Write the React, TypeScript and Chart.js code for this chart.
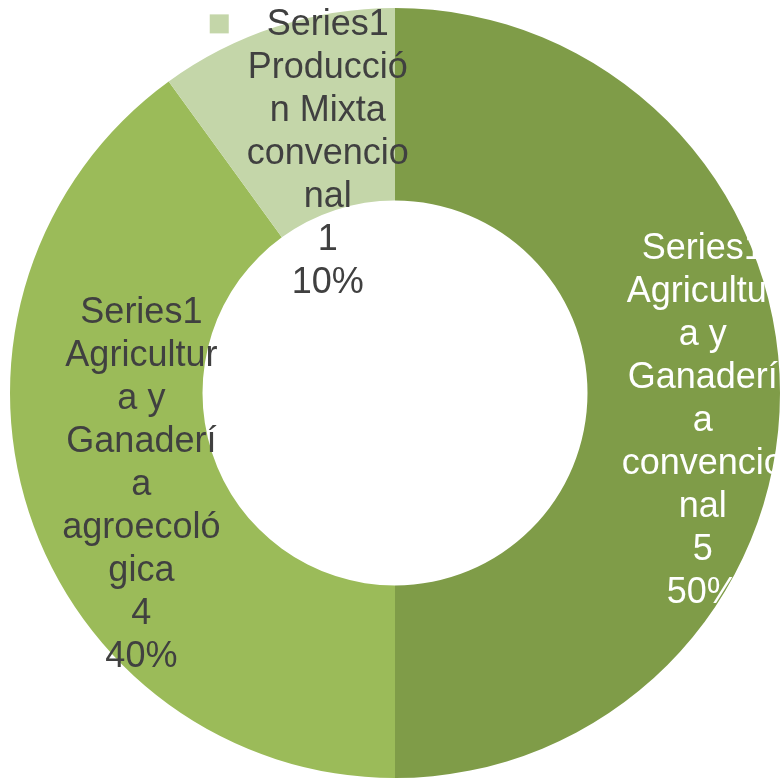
import React, { useEffect, useRef } from "react";
import { Chart, registerables } from "chart.js";

Chart.register(...registerables);

const seriesName = "Series1";
const categories = [
  "Agricultura y Ganadería convencional",
  "Agricultura y Ganadería agroecológica",
  "Producción Mixta convencional",
];
const values = [5, 4, 1];
const sliceColors = ["#7F9C48", "#9BBB59", "#C4D6A9"];
const labelColors = ["#FFFFFF", "#404040", "#404040"];
const labelOffsets = [
  [19, 28],
  [21, 3],
  [22, 36],
];
const legendKeyIndex = 2;

const FONT = '36px "Liberation Sans", Arial, sans-serif';
const LINE_H = 43;
const MAX_W = 166;

function wrapText(ctx: CanvasRenderingContext2D, text: string, maxW: number): string[] {
  const words = text.split(" ");
  const lines: string[] = [];
  let cur = "";
  for (const w of words) {
    const trial = cur ? cur + " " + w : w;
    if (ctx.measureText(trial).width <= maxW) {
      cur = trial;
      continue;
    }
    if (cur) lines.push(cur);
    cur = "";
    let rest = w;
    while (ctx.measureText(rest).width > maxW) {
      let i = rest.length - 1;
      while (i > 1 && ctx.measureText(rest.slice(0, i)).width > maxW) i--;
      lines.push(rest.slice(0, i));
      rest = rest.slice(i);
    }
    cur = rest;
  }
  if (cur) lines.push(cur);
  return lines;
}

const labelPlugin = {
  id: "excelLabels",
  afterDatasetsDraw(chart: any) {
    const ctx: CanvasRenderingContext2D = chart.ctx;
    const meta = chart.getDatasetMeta(0);
    const total = values.reduce((a, b) => a + b, 0);
    ctx.save();
    ctx.font = FONT;
    ctx.textAlign = "center";
    ctx.textBaseline = "middle";
    meta.data.forEach((arc: any, i: number) => {
      const c = arc.getCenterPoint();
      const cx = c.x + labelOffsets[i][0];
      const cy = c.y + labelOffsets[i][1];
      const lines = [
        ...wrapText(ctx, seriesName + " " + categories[i], MAX_W),
        String(values[i]),
        Math.round((values[i] / total) * 100) + "%",
      ];
      const y0 = cy - ((lines.length - 1) * LINE_H) / 2;
      ctx.fillStyle = labelColors[i];
      lines.forEach((l, k) => {
        ctx.fillText(l, cx, y0 + k * LINE_H);
      });
      if (i === legendKeyIndex) {
        const w = ctx.measureText(lines[0]).width;
        const left = cx - w / 2;
        ctx.fillStyle = sliceColors[i];
        ctx.fillRect(left - 57, y0 - 11, 19, 19);
      }
    });
    ctx.restore();
  },
};

export default function App() {
  const ref = useRef<HTMLCanvasElement | null>(null);
  useEffect(() => {
    if (!ref.current) return;
    const chart = new Chart(ref.current, {
      type: "doughnut",
      data: {
        labels: categories,
        datasets: [
          {
            label: seriesName,
            data: values,
            backgroundColor: sliceColors,
            borderWidth: 0,
          },
        ],
      },
      options: {
        responsive: false,
        animation: false,
        cutout: "50%",
        layout: { padding: { left: 10, top: 8, right: 0, bottom: 0 } },
        plugins: {
          legend: { display: false },
          tooltip: { enabled: false },
        },
      },
      plugins: [labelPlugin],
    });
    return () => chart.destroy();
  }, []);
  return (
    <div style={{ position: "fixed", left: 0, top: 0, width: 780, height: 778, background: "#fff" }}>
      <canvas ref={ref} width={780} height={778} style={{ width: 780, height: 778, display: "block" }} />
    </div>
  );
}
